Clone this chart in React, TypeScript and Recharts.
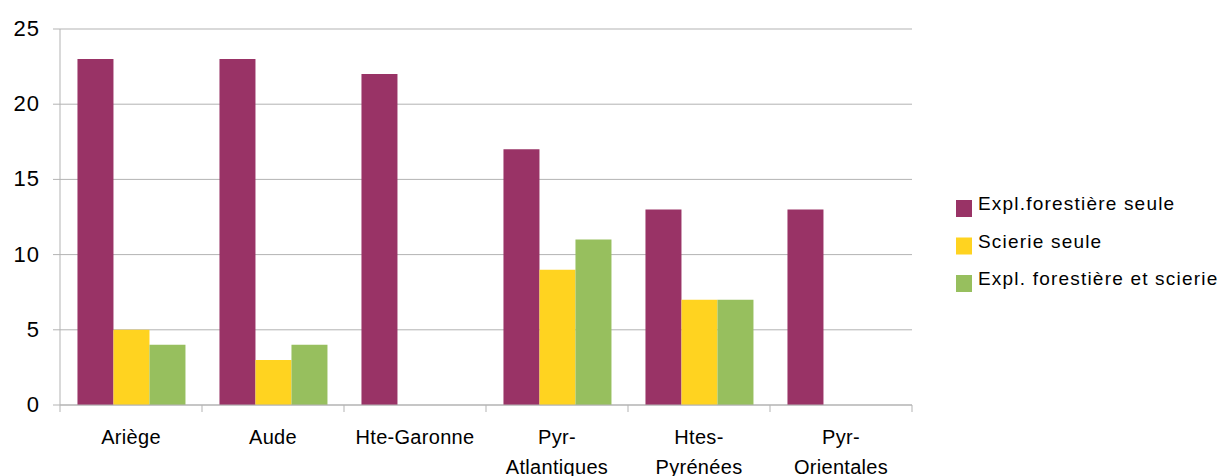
import { BarChart, Bar, XAxis, YAxis, CartesianGrid } from 'recharts'

const departements = ['Ariège', 'Aude', 'Hte-Garonne', 'Pyr-\nAtlantiques', 'Htes-\nPyrénées', 'Pyr-\nOrientales']
const explSeule = [23, 23, 22, 17, 13, 13]
const scierieSeule = [5, 3, 0, 9, 7, 0]
const explEtScierie = [4, 4, 0, 11, 7, 0]
const yTicks = [0, 5, 10, 15, 20, 25]

const series = [
  { key: 'expl', name: 'Expl.forestière seule', color: '#993366' },
  { key: 'scierie', name: 'Scierie seule', color: '#FFD320' },
  { key: 'mixte', name: 'Expl. forestière et scierie', color: '#97BF5E' },
]

const data = departements.map((dep, i) => ({
  dep,
  expl: explSeule[i],
  scierie: scierieSeule[i],
  mixte: explEtScierie[i],
}))

const W = 1218
const H = 476
const M = { top: 29, right: 306, left: 0, bottom: 0 }
const Y_W = 60
const X_H = 71
const FONT = '"Liberation Sans", Arial, sans-serif'
const GRIS = '#b3b3b3'
const BAND = (W - M.left - M.right - Y_W) / departements.length

// étiquette de catégorie + petits traits de séparation sous l'axe
function TickX({ x, y, payload, index }: any) {
  const lignes = String(payload.value).split('\n')
  const gauche = x - BAND / 2
  return (
    <g>
      <line x1={gauche} x2={gauche} y1={y} y2={y + 7} stroke={GRIS} />
      {index === departements.length - 1 && (
        <line x1={x + BAND / 2} x2={x + BAND / 2} y1={y} y2={y + 7} stroke={GRIS} />
      )}
      {lignes.map((l, i) => (
        <text key={i} x={x} y={y + 39 + i * 30} textAnchor="middle" fill="#000"
          style={{ fontFamily: FONT, fontSize: 20, letterSpacing: 0.3 }}>
          {l}
        </text>
      ))}
    </g>
  )
}

function TickY({ x, y, payload }: any) {
  return (
    <text x={x} y={y + 7} textAnchor="end" fill="#000"
      style={{ fontFamily: FONT, fontSize: 22, letterSpacing: 1 }}>
      {payload.value}
    </text>
  )
}

function Legende() {
  return (
    <svg width={262} height={110} style={{ position: 'absolute', left: 956, top: 190 }}>
      {series.map((s, i) => (
        <g key={s.key} transform={`translate(0, ${10 + i * 37.5})`}>
          <rect x={0} y={0} width={16} height={17} fill={s.color} />
          <text x={22} y={10} fill="#000" style={{ fontFamily: FONT, fontSize: 19, letterSpacing: 1.2 }}>
            {s.name}
          </text>
        </g>
      ))}
    </svg>
  )
}

export default function App() {
  return (
    <div style={{ position: 'absolute', left: 0, top: 0, width: W, height: H, background: '#fff' }}>
      <BarChart width={W} height={H} data={data} margin={M} barGap={0} barCategoryGap="12.3%">
        <CartesianGrid vertical={false} stroke={GRIS} />
        <XAxis dataKey="dep" height={X_H} interval={0} axisLine={{ stroke: GRIS }} tickLine={false}
          tickSize={0} tickMargin={0} tick={<TickX />} />
        <YAxis width={Y_W} domain={[0, 25]} ticks={yTicks} interval={0} axisLine={{ stroke: GRIS }}
          tickLine={{ stroke: GRIS }} tickSize={7} tickMargin={13} tick={<TickY />} />
        <YAxis yAxisId="bord" orientation="right" width={0} domain={[0, 25]} tick={false} tickLine={false}
          axisLine={{ stroke: GRIS }} />
        {series.map(s => (
          <Bar key={s.key} dataKey={s.key} name={s.name} fill={s.color} isAnimationActive={false} />
        ))}
      </BarChart>
      <Legende />
    </div>
  )
}
